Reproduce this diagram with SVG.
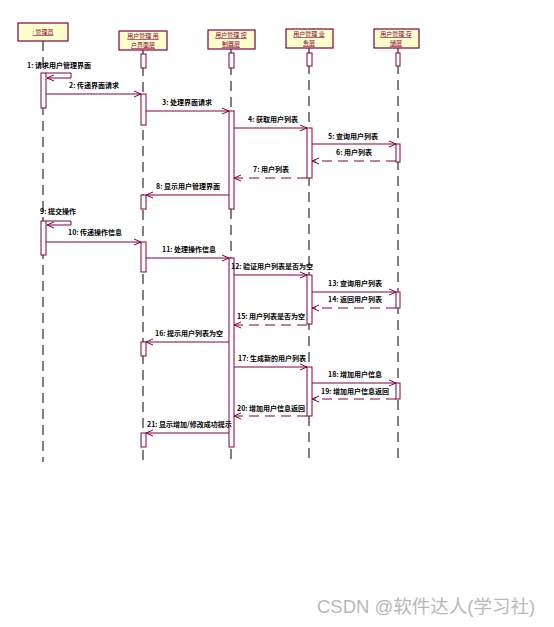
<svg xmlns="http://www.w3.org/2000/svg" width="554" height="627" viewBox="0 0 554 627">
<style>
.hd{fill:#ffffcc;stroke:#800040;stroke-width:1.2}
.ht{font-family:"Noto Sans CJK SC","Noto Sans",sans-serif;font-size:6px;fill:#800040;text-anchor:middle;text-decoration:underline}
.ll{stroke:#000;stroke-width:1;stroke-dasharray:10,6;fill:none}
.act{fill:#fff;stroke:#800040;stroke-width:1}
.m{stroke:#800040;stroke-width:1;fill:none;marker-end:url(#ah)}
.r{stroke:#800040;stroke-width:1;fill:none;stroke-dasharray:10,6;marker-end:url(#ah)}
.lb{font-family:"Noto Sans CJK SC","Noto Sans",sans-serif;font-size:7px;fill:#000;font-weight:bold}
</style>
<defs>
<marker id="ah" markerWidth="8" markerHeight="8" refX="7" refY="4" orient="auto" markerUnits="userSpaceOnUse">
<path d="M0,1 L7,4 L0,7" fill="none" stroke="#800040" stroke-width="1"/>
</marker>
</defs>
<rect width="554" height="627" fill="#fff"/>
<g id="lifelines">
<line class="ll" x1="43" y1="41" x2="43" y2="462"/>
<line class="ll" x1="143" y1="50" x2="143" y2="462"/>
<line class="ll" x1="231" y1="49" x2="231" y2="462"/>
<line class="ll" x1="309" y1="48" x2="309" y2="462"/>
<line class="ll" x1="398" y1="48" x2="398" y2="462"/>
</g>
<g id="admin"><rect class="hd" x="18" y="23" width="50" height="18"/><text class="ht" x="43" y="34">: 管理员</text></g>
<g id="ui"><rect class="hd" x="119" y="31" width="48" height="19"/><text class="ht" x="143" y="38">用户管理 用</text><text class="ht" x="143" y="47">户界面层</text></g>
<g id="ctrl"><rect class="hd" x="208" y="30" width="47" height="19"/><text class="ht" x="231" y="37">用户管理 控</text><text class="ht" x="231" y="46">制器层</text></g>
<g id="biz"><rect class="hd" x="286" y="29" width="47" height="19"/><text class="ht" x="309" y="36">用户管理 业</text><text class="ht" x="309" y="45">务层</text></g>
<g id="store"><rect class="hd" x="374" y="29" width="45" height="19"/><text class="ht" x="396" y="36">用户管理 存</text><text class="ht" x="396" y="45">储层</text></g>
<g id="activations">
<rect class="act" x="141" y="54" width="5" height="14"/>
<rect class="act" x="229" y="53" width="5" height="15"/>
<rect class="act" x="307" y="53" width="5" height="13"/>
<rect class="act" x="396" y="53" width="4" height="13"/>
<rect class="act" x="41" y="73" width="5" height="35"/>
<rect class="act" x="141" y="94" width="5" height="31"/>
<rect class="act" x="229" y="111" width="5" height="98"/>
<rect class="act" x="307" y="128" width="5" height="50"/>
<rect class="act" x="396" y="144" width="4" height="18"/>
<rect class="act" x="141" y="195" width="5" height="14"/>
<rect class="act" x="41" y="221" width="5" height="34"/>
<rect class="act" x="141" y="242" width="5" height="30"/>
<rect class="act" x="229" y="258" width="5" height="189"/>
<rect class="act" x="307" y="275" width="5" height="49"/>
<rect class="act" x="396" y="292" width="4" height="16"/>
<rect class="act" x="141" y="342" width="5" height="14"/>
<rect class="act" x="307" y="367" width="5" height="49"/>
<rect class="act" x="396" y="383" width="4" height="16"/>
<rect class="act" x="141" y="433" width="5" height="14"/>
</g>
<g id="connectors">
<path class="m" d="M46,73 H71 V78 H47"/>
<line class="m" x1="46" y1="94" x2="141" y2="94"/>
<line class="m" x1="146" y1="111" x2="229" y2="111"/>
<line class="m" x1="234" y1="128" x2="307" y2="128"/>
<line class="m" x1="312" y1="144" x2="396" y2="144"/>
<line class="r" x1="396" y1="161" x2="312" y2="161"/>
<line class="r" x1="307" y1="178" x2="234" y2="178"/>
<line class="m" x1="229" y1="195" x2="146" y2="195"/>
<path class="m" d="M46,221 H71 V225 H47"/>
<line class="m" x1="46" y1="242" x2="141" y2="242"/>
<line class="m" x1="146" y1="258" x2="229" y2="258"/>
<line class="m" x1="234" y1="275" x2="307" y2="275"/>
<line class="m" x1="312" y1="292" x2="396" y2="292"/>
<line class="r" x1="396" y1="308" x2="312" y2="308"/>
<line class="r" x1="307" y1="325" x2="234" y2="325"/>
<line class="m" x1="229" y1="342" x2="146" y2="342"/>
<line class="m" x1="234" y1="367" x2="307" y2="367"/>
<line class="m" x1="312" y1="383" x2="396" y2="383"/>
<line class="r" x1="396" y1="399" x2="312" y2="399"/>
<line class="r" x1="307" y1="416" x2="234" y2="416"/>
<line class="m" x1="229" y1="433" x2="146" y2="433"/>
</g>
<g id="labels">
<text class="lb" x="27" y="68">1: 请求用户管理界面</text>
<text class="lb" x="69" y="88">2: 传递界面请求</text>
<text class="lb" x="162" y="105">3: 处理界面请求</text>
<text class="lb" x="248" y="122">4: 获取用户列表</text>
<text class="lb" x="328" y="139">5: 查询用户列表</text>
<text class="lb" x="336" y="155">6: 用户列表</text>
<text class="lb" x="253" y="172">7: 用户列表</text>
<text class="lb" x="156" y="189">8: 显示用户管理界面</text>
<text class="lb" x="40" y="214">9: 提交操作</text>
<text class="lb" x="68" y="235">10: 传递操作信息</text>
<text class="lb" x="162" y="252">11: 处理操作信息</text>
<text class="lb" x="231" y="269">12: 验证用户列表是否为空</text>
<text class="lb" x="328" y="286">13: 查询用户列表</text>
<text class="lb" x="328" y="302">14: 返回用户列表</text>
<text class="lb" x="237" y="319">15: 用户列表是否为空</text>
<text class="lb" x="155" y="336">16: 提示用户列表为空</text>
<text class="lb" x="238" y="361">17: 生成新的用户列表</text>
<text class="lb" x="328" y="377">18: 增加用户信息</text>
<text class="lb" x="321" y="394">19: 增加用户信息返回</text>
<text class="lb" x="237" y="411">20: 增加用户信息返回</text>
<text class="lb" x="147" y="427">21: 显示增加/修改成功提示</text>
</g>
<text x="317" y="613" font-family="'Liberation Sans','Noto Sans CJK SC',sans-serif" font-size="18.5" fill="#b8b8b8">CSDN @软件达人(学习社)</text>
</svg>
